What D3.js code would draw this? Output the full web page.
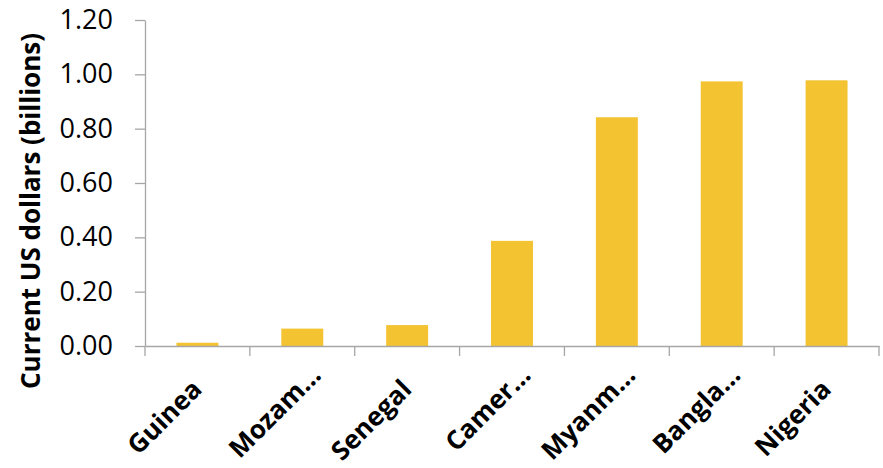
<!DOCTYPE html>
<html>
<head>
<meta charset="utf-8">
<script src="https://cdn.jsdelivr.net/npm/d3@7"></script>
<style>
  html, body { margin: 0; padding: 0; background: #fff; }
  svg { display: block; }
</style>
</head>
<body>
<svg id="chart" width="883" height="468"></svg>
<script>
const categories = ["Guinea", "Mozam…", "Senegal", "Camer…", "Myanm…", "Bangla…", "Nigeria"];
const values = [0.012, 0.064, 0.077, 0.387, 0.842, 0.974, 0.978];
const yTicks = [0, 0.2, 0.4, 0.6, 0.8, 1.0, 1.2];
const yTitle = "Current US dollars (billions)";

const svg = d3.select("#chart");
const plotLeft = 145, plotRight = 879, plotTop = 20, plotBottom = 346;

const x = d3.scaleBand().domain(categories).range([plotLeft, plotRight]).paddingInner(0.6).paddingOuter(0.3);
const xEdge = d3.scaleBand().domain(categories).range([plotLeft, plotRight]).padding(0);
const y = d3.scaleLinear().domain([0, 1.2]).range([plotBottom, plotTop]);

const axisColor = "#A6A6A6";

// bars
svg.append("g").selectAll("rect").data(values).join("rect")
  .attr("x", (d, i) => x(categories[i]))
  .attr("width", x.bandwidth())
  .attr("y", d => y(d))
  .attr("height", d => y(0) - y(d))
  .attr("fill", "#F3C332");

// y axis
const yAxis = svg.append("g").attr("transform", `translate(${plotLeft},0)`)
  .call(d3.axisLeft(y).tickValues(yTicks).tickFormat(d3.format(".2f")).tickSize(10).tickSizeOuter(0));
yAxis.select(".domain").attr("stroke", axisColor).attr("stroke-width", 1.3);
yAxis.selectAll(".tick line").attr("stroke", axisColor).attr("stroke-width", 1.3);
yAxis.selectAll(".tick text")
  .attr("x", -32)
  .attr("font-family", "Open Sans")
  .attr("font-size", 27)
  .attr("fill", "#000");

// x axis
const xAxis = svg.append("g").attr("transform", `translate(0,${plotBottom})`)
  .call(d3.axisBottom(xEdge).tickValues([]).tickSizeOuter(0));
xAxis.select(".domain").attr("stroke", axisColor).attr("stroke-width", 1.3);
const edges = categories.map(c => xEdge(c)).concat([plotRight]);
xAxis.selectAll("line.edge").data(edges).join("line")
  .attr("class", "edge")
  .attr("x1", d => d).attr("x2", d => d)
  .attr("y1", 0).attr("y2", 10)
  .attr("stroke", axisColor).attr("stroke-width", 1.3);

// x labels (truncated labels sit further along their own direction, as in the original)
svg.append("g").selectAll("text").data(categories).join("text")
  .attr("transform", d => `translate(${xEdge(d) + xEdge.bandwidth() / 2 + 6},391) rotate(-45)`)
  .attr("dx", d => d.endsWith("…") ? 20 : 0)
  .attr("text-anchor", "end")
  .attr("font-family", "Open Sans")
  .attr("font-weight", "bold")
  .attr("font-size", 26)
  .attr("fill", "#000")
  .text(d => d);

// y title
svg.append("text")
  .attr("transform", `translate(40,211) rotate(-90)`)
  .attr("text-anchor", "middle")
  .attr("font-family", "Open Sans")
  .attr("font-weight", "bold")
  .attr("font-size", 26)
  .attr("fill", "#000")
  .text(yTitle);
</script>
</body>
</html>
